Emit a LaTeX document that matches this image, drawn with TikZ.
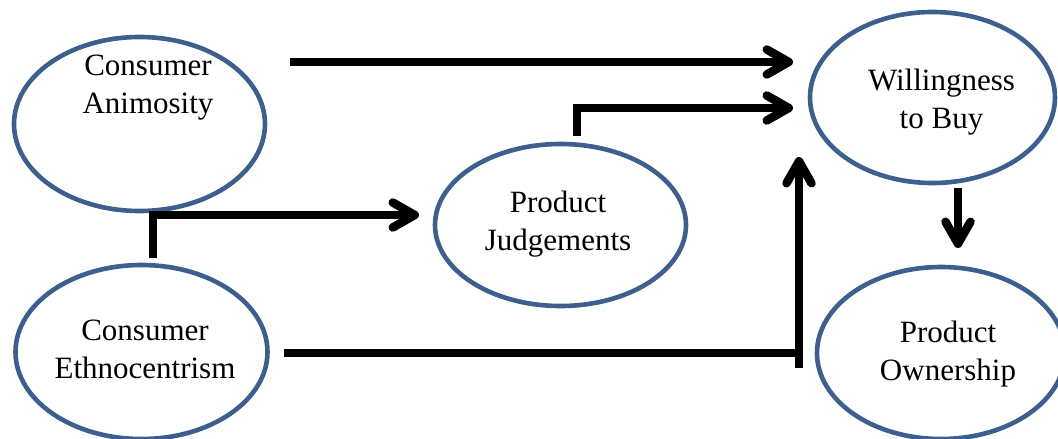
\documentclass[tikz,border=0pt]{standalone}
\usepackage{fontspec}
\setmainfont{Liberation Serif}
\newfontfamily\tnrfont{Liberation Serif}
\usetikzlibrary{arrows.meta,shapes.geometric}
\definecolor{ellblue}{RGB}{60,95,142}
\tikzset{
  oval/.style={draw=ellblue, line width=4.6pt, ellipse, inner sep=0pt, outer sep=0pt},
  lbl/.style={align=center, anchor=base, inner sep=0pt, font=\tnrfont\fontsize{31}{37.5}\selectfont},
  conn/.style={line width=8.5pt, black, line cap=butt, line join=miter},
  tipped/.style={conn, -{Straight Barb[length=22pt, width=25pt, round]}}
}
\begin{document}
\begin{tikzpicture}[x=1pt, y=-1pt]
\useasboundingbox (0,0) rectangle (1058,439);
% ellipses
\node[oval, minimum width=251pt, minimum height=174pt] (ca) at (139.5,124) {};
\node[oval, minimum width=252pt, minimum height=174pt] (ce) at (141.5,352) {};
\node[oval, minimum width=251pt, minimum height=162pt] (pj) at (560.5,225) {};
\node[oval, minimum width=245pt, minimum height=171pt] (wtb) at (932.5,97.5) {};
\node[oval, minimum width=248pt, minimum height=172pt] (po) at (941,353) {};
% labels (anchor = baseline of the last line)
\node[lbl] (cat) at (148,113) {Consumer\\Animosity};
\node[lbl] (cet) at (145,378) {Consumer\\Ethnocentrism};
\node[lbl] (pjt) at (558,250) {Product\\Judgements};
\node[lbl] (wtbt) at (941.5,128) {Willingness\\to Buy};
\node[lbl] (pot) at (948,380) {Product\\Ownership};
% connector coordinates
\coordinate (caR) at (290,62);
\coordinate (wtbA) at (793,62);
\coordinate (pjT) at (577,136);
\coordinate (pjC) at (577,108);
\coordinate (wtbB) at (793,108);
\coordinate (ceT) at (153,258);
\coordinate (ceC) at (153,215);
\coordinate (pjL) at (419,215);
\coordinate (ceR) at (284,353);
\coordinate (ceJ) at (799,353);
\coordinate (ceV) at (799,368);
\coordinate (wtbC) at (799,157);
\coordinate (wtbD) at (958,188);
\coordinate (poT) at (958,248);
% connectors
\draw[tipped] (caR) -- (wtbA);
\draw[tipped] (pjT) -- (pjC) -- (wtbB);
\draw[tipped] (ceT) -- (ceC) -- (pjL);
\draw[conn] (ceR) -- (ceJ);
\draw[tipped] (ceV) -- (wtbC);
\draw[tipped] (wtbD) -- (poT);
\end{tikzpicture}
\end{document}
